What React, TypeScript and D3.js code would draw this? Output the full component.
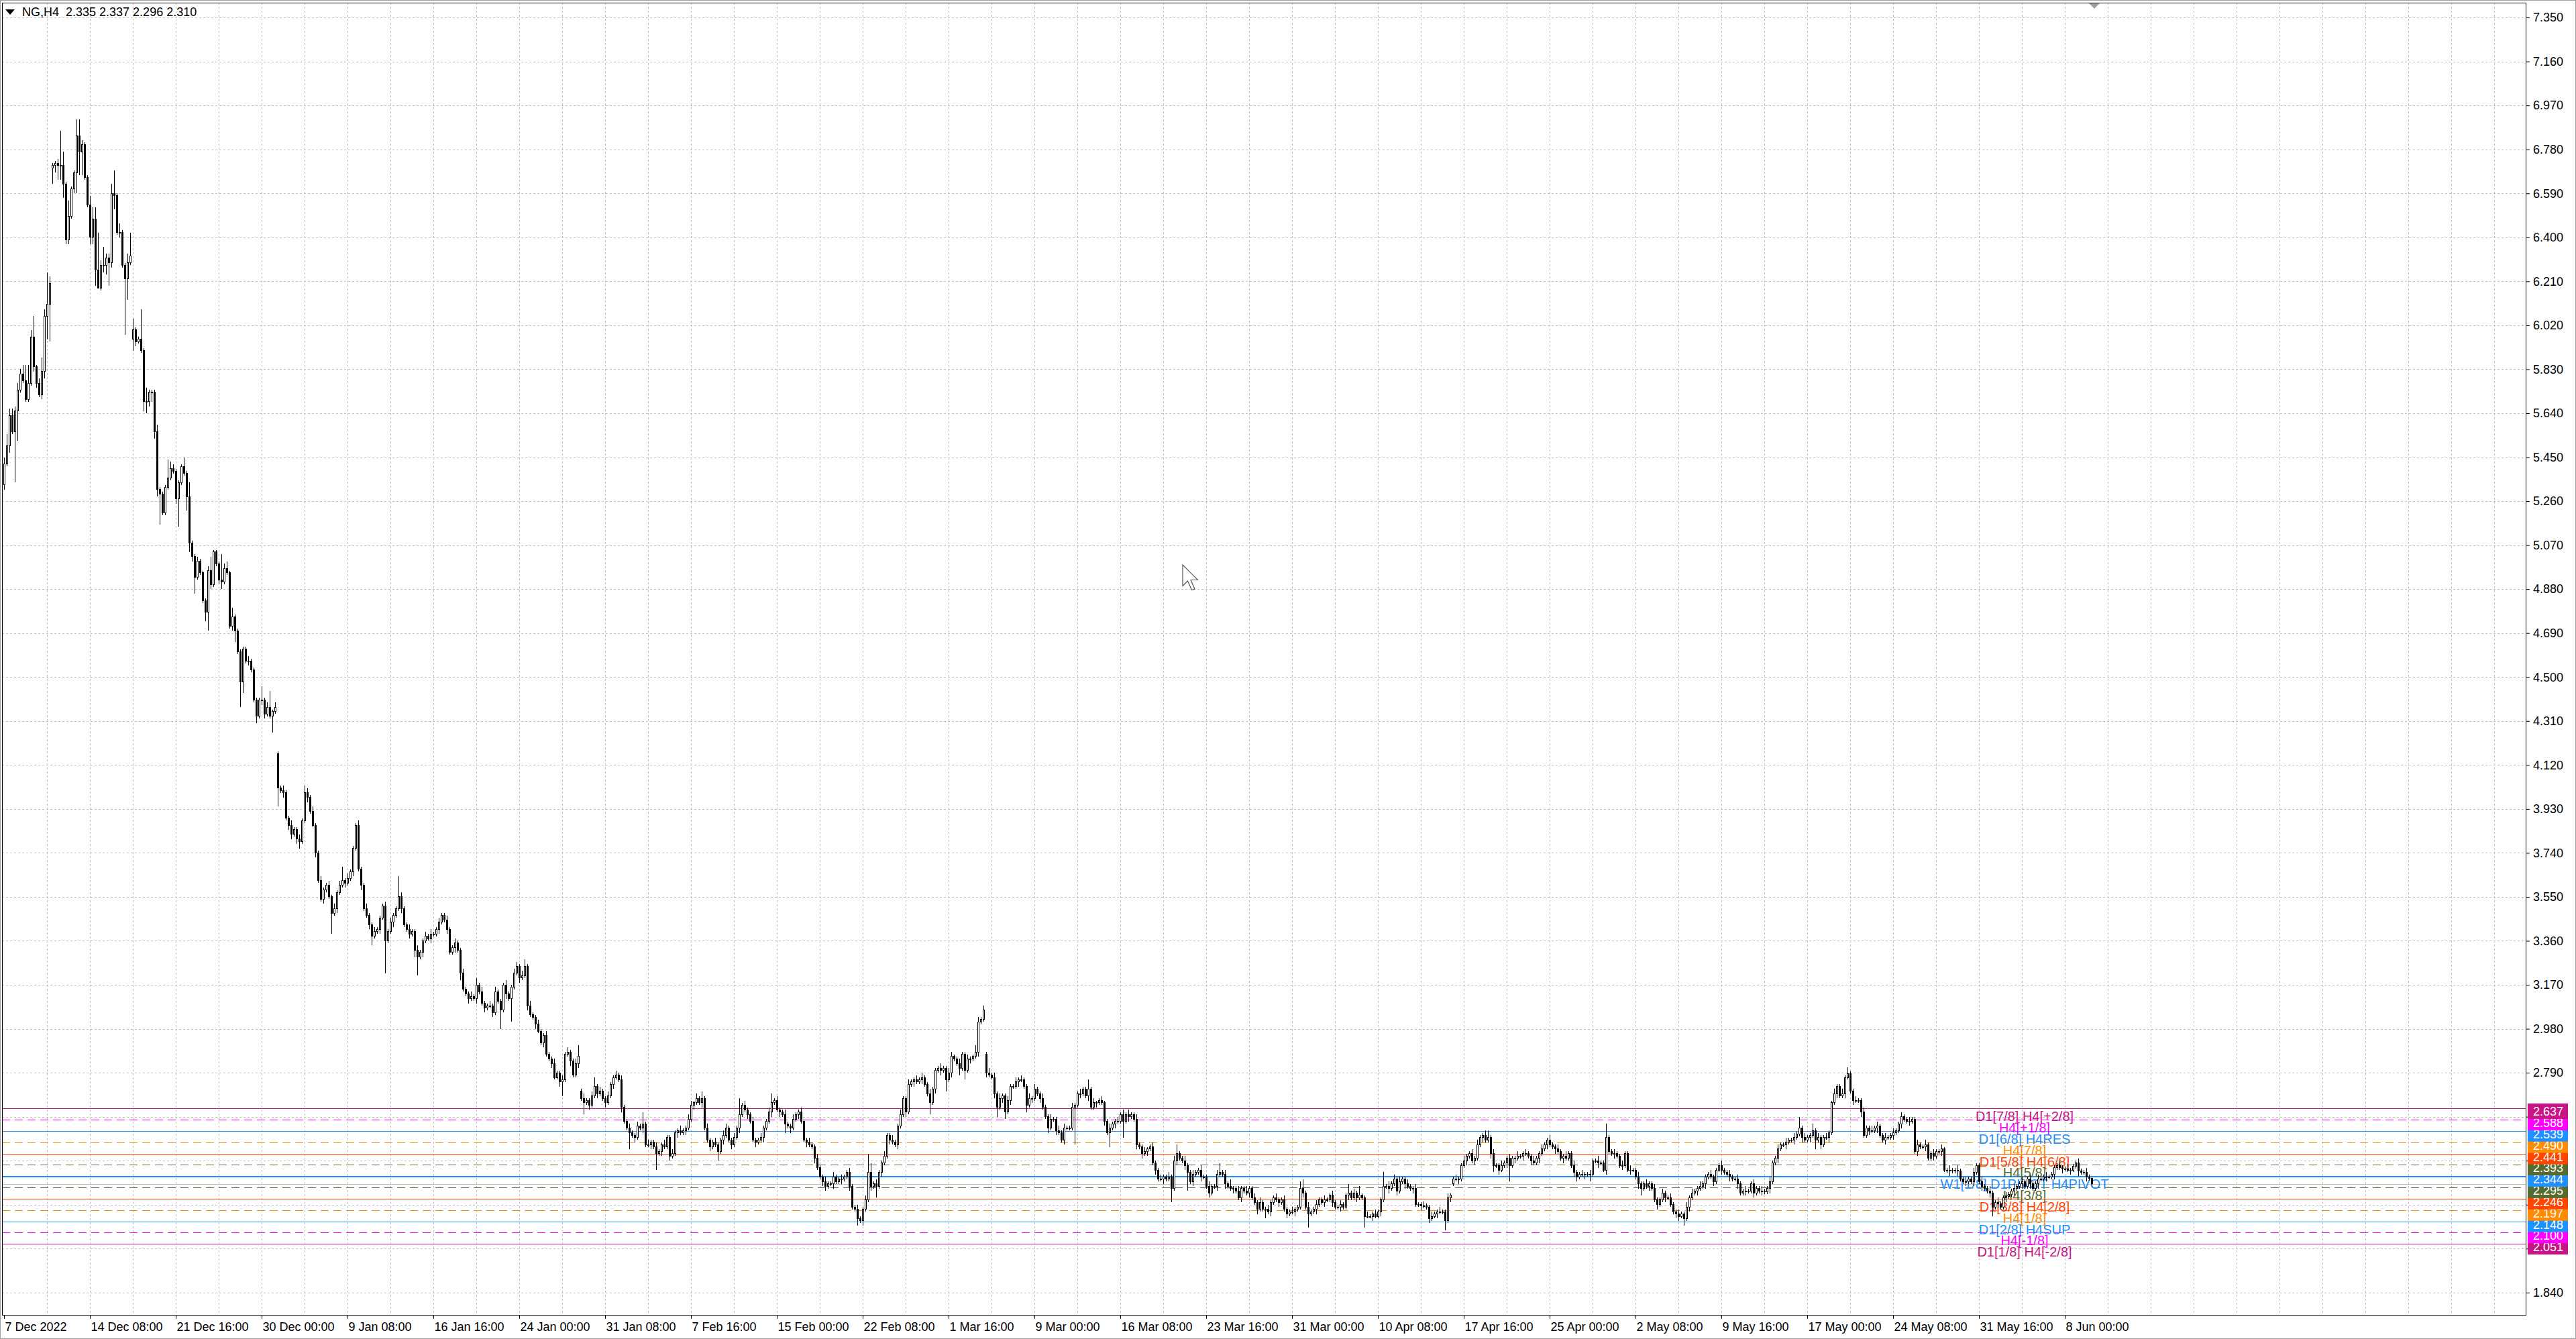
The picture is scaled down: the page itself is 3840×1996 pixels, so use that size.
import { useEffect, useRef } from "react";
import * as d3 from "d3";

const W = 3840;
const H = 1996;

// NG,H4 closes, one per bar
const closes = [
  5.42, 5.50, 5.63, 5.56, 5.65, 5.74, 5.81, 5.78, 5.70, 5.77, // 0
  5.97, 5.84, 5.77, 5.72, 5.82, 6.06, 6.11, 6.20, 6.71, 6.72, // 10
  6.71, 6.71, 6.63, 6.39, 6.49, 6.61, 6.68, 6.84, 6.77, 6.80, // 20
  6.66, 6.54, 6.40, 6.48, 6.26, 6.18, 6.28, 6.28, 6.31, 6.29, // 30
  6.59, 6.58, 6.42, 6.42, 6.28, 6.22, 6.29, 6.32, 6.00, 5.95, // 40
  5.96, 5.91, 5.69, 5.69, 5.73, 5.73, 5.56, 5.31, 5.29, 5.21, // 50
  5.32, 5.36, 5.40, 5.39, 5.27, 5.34, 5.41, 5.38, 5.28, 5.08, // 60
  5.02, 4.93, 5.00, 4.95, 4.83, 4.78, 4.96, 4.90, 5.04, 4.99, // 70
  4.92, 4.91, 4.97, 4.95, 4.72, 4.76, 4.70, 4.61, 4.48, 4.62, // 80
  4.57, 4.57, 4.53, 4.40, 4.33, 4.40, 4.40, 4.34, 4.37, 4.33, // 90
  4.35, 4.37, 4.02, 4.01, 4.00, 3.89, 3.86, 3.82, 3.84, 3.80, // 100
  3.79, 3.88, 4.00, 3.98, 3.92, 3.86, 3.74, 3.62, 3.54, 3.58, // 110
  3.60, 3.55, 3.48, 3.50, 3.57, 3.60, 3.62, 3.61, 3.63, 3.66, // 120
  3.76, 3.86, 3.67, 3.60, 3.50, 3.47, 3.43, 3.38, 3.40, 3.41, // 130
  3.46, 3.51, 3.36, 3.40, 3.44, 3.47, 3.50, 3.55, 3.50, 3.43, // 140
  3.41, 3.39, 3.40, 3.32, 3.29, 3.31, 3.36, 3.38, 3.37, 3.39, // 150
  3.39, 3.41, 3.44, 3.47, 3.45, 3.41, 3.31, 3.33, 3.35, 3.32, // 160
  3.22, 3.15, 3.13, 3.11, 3.12, 3.11, 3.17, 3.14, 3.09, 3.07, // 170
  3.08, 3.08, 3.05, 3.14, 3.10, 3.06, 3.17, 3.13, 3.11, 3.16, // 180
  3.22, 3.25, 3.20, 3.21, 3.25, 3.08, 3.04, 3.03, 3.00, 2.97, // 190
  2.92, 2.95, 2.87, 2.85, 2.83, 2.77, 2.79, 2.75, 2.76, 2.87, // 200
  2.88, 2.84, 2.78, 2.83, 2.86, 2.68, 2.66, 2.67, 2.65, 2.69, // 210
  2.73, 2.70, 2.71, 2.68, 2.66, 2.69, 2.74, 2.77, 2.78, 2.76, // 220
  2.64, 2.58, 2.55, 2.53, 2.52, 2.51, 2.56, 2.55, 2.57, 2.48, // 230
  2.48, 2.49, 2.47, 2.44, 2.45, 2.48, 2.47, 2.51, 2.43, 2.44, // 240
  2.53, 2.54, 2.53, 2.54, 2.55, 2.59, 2.65, 2.66, 2.68, 2.66, // 250
  2.68, 2.55, 2.50, 2.47, 2.49, 2.48, 2.45, 2.50, 2.52, 2.55, // 260
  2.50, 2.48, 2.51, 2.55, 2.61, 2.65, 2.63, 2.61, 2.58, 2.50, // 270
  2.49, 2.50, 2.51, 2.55, 2.58, 2.62, 2.66, 2.67, 2.63, 2.62, // 280
  2.61, 2.57, 2.56, 2.55, 2.59, 2.61, 2.62, 2.58, 2.50, 2.49, // 290
  2.48, 2.47, 2.42, 2.38, 2.34, 2.32, 2.30, 2.31, 2.31, 2.34, // 300
  2.32, 2.33, 2.33, 2.34, 2.36, 2.30, 2.21, 2.20, 2.16, 2.15, // 310
  2.20, 2.24, 2.36, 2.30, 2.31, 2.30, 2.36, 2.40, 2.43, 2.52, // 320
  2.50, 2.49, 2.48, 2.56, 2.61, 2.68, 2.62, 2.74, 2.75, 2.76, // 330
  2.75, 2.76, 2.77, 2.74, 2.70, 2.66, 2.72, 2.80, 2.81, 2.80, // 340
  2.81, 2.76, 2.79, 2.86, 2.85, 2.83, 2.81, 2.87, 2.80, 2.85, // 350
  2.85, 2.86, 2.88, 3.01, 3.02, 3.06, 2.79, 2.78, 2.77, 2.70, // 360
  2.64, 2.68, 2.69, 2.62, 2.67, 2.73, 2.73, 2.75, 2.76, 2.76, // 370
  2.73, 2.65, 2.68, 2.68, 2.72, 2.70, 2.68, 2.64, 2.60, 2.55, // 380
  2.59, 2.59, 2.54, 2.53, 2.50, 2.55, 2.55, 2.55, 2.64, 2.65, // 390
  2.70, 2.70, 2.72, 2.69, 2.72, 2.64, 2.66, 2.66, 2.67, 2.66, // 400
  2.58, 2.53, 2.55, 2.57, 2.58, 2.58, 2.61, 2.58, 2.61, 2.60, // 410
  2.61, 2.59, 2.48, 2.47, 2.44, 2.45, 2.46, 2.47, 2.40, 2.37, // 420
  2.33, 2.33, 2.34, 2.33, 2.34, 2.29, 2.41, 2.44, 2.42, 2.41, // 430
  2.39, 2.36, 2.32, 2.35, 2.36, 2.37, 2.34, 2.34, 2.30, 2.27, // 440
  2.30, 2.30, 2.35, 2.36, 2.35, 2.31, 2.30, 2.29, 2.29, 2.28, // 450
  2.25, 2.29, 2.28, 2.27, 2.29, 2.25, 2.23, 2.20, 2.23, 2.20, // 460
  2.20, 2.19, 2.23, 2.25, 2.24, 2.23, 2.24, 2.20, 2.18, 2.19, // 470
  2.19, 2.20, 2.21, 2.29, 2.27, 2.21, 2.18, 2.19, 2.20, 2.22, // 480
  2.24, 2.23, 2.24, 2.24, 2.26, 2.23, 2.21, 2.21, 2.22, 2.21, // 490
  2.26, 2.27, 2.25, 2.27, 2.25, 2.26, 2.25, 2.17, 2.17, 2.17, // 500
  2.18, 2.17, 2.19, 2.24, 2.30, 2.30, 2.29, 2.31, 2.33, 2.28, // 510
  2.32, 2.33, 2.31, 2.30, 2.29, 2.29, 2.22, 2.22, 2.215, 2.215, // 520
  2.21, 2.16, 2.17, 2.18, 2.19, 2.19, 2.19, 2.15, 2.25, 2.26, // 530
  2.33, 2.33, 2.33, 2.39, 2.41, 2.43, 2.44, 2.41, 2.42, 2.48, // 540
  2.51, 2.52, 2.50, 2.51, 2.44, 2.39, 2.39, 2.37, 2.39, 2.40, // 550
  2.42, 2.39, 2.42, 2.42, 2.43, 2.43, 2.44, 2.44, 2.43, 2.41, // 560
  2.40, 2.42, 2.44, 2.46, 2.48, 2.50, 2.48, 2.47, 2.46, 2.45, // 570
  2.42, 2.43, 2.42, 2.44, 2.39, 2.36, 2.34, 2.35, 2.35, 2.35, // 580
  2.35, 2.35, 2.41, 2.41, 2.40, 2.40, 2.37, 2.51, 2.45, 2.44, // 590
  2.44, 2.43, 2.39, 2.39, 2.44, 2.37, 2.37, 2.37, 2.34, 2.31, // 600
  2.29, 2.31, 2.30, 2.31, 2.29, 2.24, 2.22, 2.24, 2.27, 2.25, // 610
  2.25, 2.22, 2.19, 2.18, 2.17, 2.18, 2.16, 2.21, 2.25, 2.27, // 620
  2.28, 2.29, 2.30, 2.31, 2.34, 2.35, 2.34, 2.32, 2.37, 2.39, // 630
  2.37, 2.36, 2.35, 2.34, 2.33, 2.33, 2.31, 2.27, 2.28, 2.28, // 640
  2.28, 2.31, 2.27, 2.29, 2.28, 2.28, 2.275, 2.29, 2.32, 2.40, // 650
  2.42, 2.46, 2.48, 2.48, 2.49, 2.50, 2.50, 2.51, 2.525, 2.55, // 660
  2.51, 2.50, 2.51, 2.52, 2.54, 2.50, 2.51, 2.48, 2.51, 2.51, // 670
  2.53, 2.66, 2.70, 2.73, 2.69, 2.70, 2.77, 2.785, 2.71, 2.67, // 680
  2.67, 2.67, 2.62, 2.52, 2.55, 2.54, 2.54, 2.55, 2.56, 2.52, // 690
  2.50, 2.51, 2.51, 2.52, 2.53, 2.54, 2.57, 2.60, 2.59, 2.58, // 700
  2.58, 2.59, 2.45, 2.48, 2.47, 2.47, 2.48, 2.42, 2.44, 2.43, // 710
  2.45, 2.45, 2.46, 2.37, 2.365, 2.37, 2.365, 2.37, 2.365, 2.33, // 720
  2.32, 2.32, 2.33, 2.32, 2.36, 2.39, 2.32, 2.30, 2.29, 2.28, // 730
  2.27, 2.21, 2.23, 2.225, 2.21, 2.25, 2.255, 2.265, 2.28, 2.29, // 740
  2.30, 2.31, 2.32, 2.30, 2.33, 2.31, 2.29, 2.31, 2.33, 2.33, // 750
  2.34, 2.34, 2.34, 2.35, 2.38, 2.39, 2.38, 2.375, 2.375, 2.37, // 760
  2.37, 2.385, 2.40, 2.365, 2.36, 2.36, 2.34, 2.335, 2.31, // 770
];

// upper / lower shadow beyond the body, in cents
const wickUp = [
  3, 5, 3, 3, 2, 3, 2, 4, 7, 8, 3, 9, 1, 2, 6, 3, 14, 3, 1, 1,
  2, 15, 6, 1, 7, 1, 1, 7, 7, 2, 1, 1, 4, 5, 5, 16, 2, 8, 2, 2,
  4, 10, 1, 4, 1, 1, 4, 10, 5, 1, 1, 13, 1, 6, 1, 1, 1, 3, 1, 1,
  1, 8, 3, 2, 1, 1, 1, 4, 1, 6, 1, 1, 2, 1, 1, 1, 2, 6, 1, 1,
  1, 11, 2, 3, 1, 4, 1, 1, 1, 1, 1, 2, 1, 1, 1, 1, 6, 1, 2, 7,
  1, 2, // 0-101
  1, 1, 2, 1, 1, 2, 1, 1, 2, 1, 3, 2, 1, 2, 1, 1, 2, 1, 1, 2, // 102
  1, 2, 1, 2, 6, 1, 2, 1, 1, 1, 2, 1, 1, 2, 1, 1, 2, 1, 1, 1, // 122
  2, 1, 2, 1, 1, 9, 2, 1, 1, 2, 1, 1, 2, 1, 1, 2, 1, 2, 1, 1, // 142
  2, 1, 1, 2, 1, 1, 2, 1, 1, 2, 1, 1, 2, 1, 3, 1, 2, 1, 1, 2, // 162
  1, 2, 1, 1, 1, 2, 1, 1, 2, 2, 1, 2, 3, 1, 2, 1, 1, 2, 1, 1, // 182
  2, 1, 1, 2, 1, 1, 2, 1, 2, 1, 1, 2, 5, 1, 2, 1, 1, 2, 4, 1, // 202
  2, 1, 1, 2, 1, 1, 2, 1, 2, 1, 1, 2, 1, 1, 2, 1, 5, 1, 2, 1, // 222
  1, 2, 1, 1, 2, 1, 1, 2, 1, 1, 2, 1, 1, 2, 2, 1, 2, 1, 3, 1, // 242
  2, 1, 1, 2, 1, 1, 2, 2, 1, 1, 2, 1, 7, 1, 2, 1, 1, 2, 1, 1, // 262
  2, 1, 1, 2, 4, 1, 2, 1, 1, 2, 1, 1, 2, 1, 1, 2, 1, 1, 2, 1, // 282
  1, 2, 1, 1, 2, 1, 1, 2, 1, 1, 2, 1, 1, 2, 1, 1, 2, 1, 1, 2, // 302
  8, 4, 1, 2, 1, 1, 2, 1, 1, 2, 1, 1, 2, 1, 1, 2, 1, 1, 2, 1, // 322
  2, 1, 1, 2, 1, 1, // 342
  1, 2, 1, 1, 2, 2, 1, 1, 2, 1, 1, 2, 1, 1, 3, 2, 1, 2, 1, 2, // 348
  1, 2, 1, 2, 1, 1, 2, 1, 1, 2, 1, 2, 1, 1, 2, 1, 2, 1, 1, 2, // 368
  1, 1, 2, 1, 1, 2, 1, 2, 1, 1, 2, 1, 1, 2, 1, 1, 4, 1, 2, 1, // 388
  1, 2, 1, 1, 2, 1, 1, 2, 1, 2, 1, 2, 1, 1, 2, 1, 1, 2, 1, 1, // 408
  2, 1, 1, 2, 1, 1, 2, 1, 2, 4, 1, 1, 2, 1, 1, 2, 1, 1, 2, 1, // 428
  1, 2, 1, 1, 2, 4, 1, 2, 1, 3, 1, 1, 2, 1, 1, 2, 1, 1, 2, 1, // 448
  2, 1, 1, 2, 1, 1, 2, 1, 1, 2, 1, 1, 2, 1, 1, 3, 4, 1, 2, 1, // 468
  1, 2, 1, 1, 2, 1, 1, 2, 1, 1, 2, 1, 1, 4, 1, 2, 1, 4, 1, 1, // 488
  2, 1, 1, 2, 1, 1, 6, 1, 2, 1, 2, 1, 2, 1, 1, 2, 1, 1, 2, 1, // 508
  1, 2, 1, 1, 2, 1, 1, 2, 1, 1, 2, 1, 1, 2, 1, 1, 2, 1, 1, 2, // 528
  1, 2, 1, 1, 2, 3, 1, 2, 1, 1, 2, 1, 1, 2, 1, 1, 2, 1, 1, 2, // 548
  1, 1, 2, 1, 1, 2, 1, 1, 2, 1, 1, 2, 1, 1, 2, 1, 1, 2, 1, 1, // 568
  2, 1, 1, 2, 1, 1, 2, 1, 1, 6, 1, 1, 2, 1, 1, 2, 1, 1, 2, 1, // 588
  1, 2, 1, 1, 2, 1, 1, 2, 1, 1, 2, 1, 1, 2, 1, 1, 2, 1, 1, 2, // 608
  1, 2, 1, 1, 2, 1, 1, 1, 2, 1, 1, 1, 2, 1, 1, 2, 1, 1, 2, 1, // 628
  1, 2, 1, 1, 2, 1, 1, 2, 1, 1, 2, 1, 1, 2, 1, 1, 2, 1, 1, 2, // 648
  1, 5, 1, 2, 1, 1, 3, 1, 2, 1, 1, 2, 1, 1, 2, 1, 1, 2, 1, 3, // 668
  1, 1, 2, 1, 1, 2, 1, 1, 2, 1, 2, 1, 1, 2, 1, 1, 2, 1, 1, 2, // 688
  1, 1, 2, 1, 1, 2, 1, 1, 2, 1, 1, 2, 1, 1, 2, 1, 1, 2, 1, 1, // 708
  2, 1, 1, 2, 1, 1, 2, 1, 1, 2, 1, 1, 2, 1, 1, 2, 1, 1, 2, 1, // 728
  1, 2, 1, 1, 2, 1, 1, 2, 1, 1, 2, 1, 1, 2, 1, 1, 1, 1, 2, 1, // 748
  1, 2, 1, 1, 1, 2, 1, 1, 2, 1, 0.2, // 768
];

const wickDn = [
  2, 1, 3, 1, 22, 13, 1, 1, 1, 1, 1, 2, 2, 1, 2, 3, 10, 16, 7, 3,
  6, 6, 6, 2, 2, 1, 2, 9, 10, 10, 1, 1, 3, 3, 7, 0, 1, 3, 4, 10,
  2, 6, 1, 2, 1, 24, 9, 1, 5, 2, 1, 1, 4, 5, 2, 4, 3, 3, 13, 1,
  1, 1, 1, 1, 2, 12, 1, 1, 6, 4, 2, 7, 1, 1, 1, 4, 8, 2, 1, 1,
  2, 3, 1, 1, 1, 2, 5, 1, 11, 5, 1, 2, 1, 1, 3, 1, 2, 2, 1, 1,
  7, 1, // 0-101
  8, 1, 2, 1, 2, 2, 1, 2, 3, 1, 1, 2, 1, 1, 2, 1, 1, 2, 1, 1, // 102
  9, 1, 2, 1, 1, 2, 1, 1, 2, 1, 1, 2, 1, 1, 2, 4, 1, 1, 2, 1, // 122
  14, 1, 1, 2, 1, 1, 2, 1, 1, 2, 1, 3, 8, 1, 2, 1, 1, 2, 1, 1, // 142
  2, 1, 1, 2, 1, 1, 2, 1, 3, 1, 1, 2, 1, 1, 2, 1, 1, 2, 1, 1, // 162
  2, 1, 1, 8, 1, 2, 1, 10, 1, 1, 2, 1, 1, 2, 1, 1, 2, 1, 1, 2, // 182
  1, 1, 2, 1, 1, 2, 6, 1, 1, 2, 1, 1, 2, 1, 5, 1, 2, 1, 1, 2, // 202
  1, 1, 2, 1, 1, 2, 1, 1, 2, 1, 1, 7, 1, 2, 1, 1, 2, 1, 1, 2, // 222
  1, 7, 1, 2, 1, 1, 2, 1, 1, 2, 1, 1, 2, 1, 1, 2, 1, 1, 2, 1, // 242
  1, 2, 1, 1, 4, 1, 2, 1, 1, 2, 1, 1, 2, 1, 1, 2, 1, 1, 2, 1, // 262
  1, 2, 1, 1, 2, 1, 1, 2, 1, 4, 1, 2, 1, 1, 2, 1, 1, 2, 1, 1, // 282
  2, 1, 1, 2, 2, 1, 1, 2, 1, 1, 2, 1, 1, 2, 1, 1, 3, 1, 2, 1, // 302
  1, 2, 1, 5, 1, 2, 1, 1, 2, 1, 1, 2, 1, 1, 2, 1, 1, 2, 1, 1, // 322
  2, 1, 1, 5, 1, 2, // 342
  1, 2, 1, 5, 1, 2, 1, 1, 3, 1, 4, 1, 2, 1, 1, 2, 1, 1, 2, 1, // 348
  1, 2, 4, 1, 2, 3, 1, 2, 1, 1, 2, 1, 1, 3, 1, 2, 1, 1, 2, 1, // 368
  1, 2, 1, 1, 2, 1, 1, 2, 1, 1, 1, 16, 1, 2, 1, 1, 2, 1, 1, 2, // 388
  1, 1, 2, 1, 6, 1, 2, 1, 1, 7, 1, 2, 1, 1, 2, 1, 2, 1, 2, 1, // 408
  1, 2, 1, 1, 2, 1, 1, 6, 1, 2, 1, 1, 2, 8, 1, 2, 1, 1, 2, 1, // 428
  1, 2, 1, 1, 2, 1, 1, 2, 1, 1, 2, 1, 1, 2, 1, 1, 2, 1, 1, 2, // 448
  1, 1, 4, 1, 2, 1, 1, 2, 1, 1, 2, 1, 1, 2, 1, 1, 2, 1, 6, 1, // 468
  1, 2, 1, 1, 2, 1, 1, 2, 1, 1, 2, 1, 1, 2, 1, 1, 2, 1, 1, 5, // 488
  1, 1, 2, 1, 1, 2, 1, 1, 2, 1, 1, 2, 1, 1, 2, 1, 1, 2, 1, 1, // 508
  2, 1, 1, 2, 1, 1, 2, 1, 1, 4, 1, 2, 1, 1, 2, 1, 1, 2, 1, 1, // 528
  2, 1, 1, 2, 1, 1, 2, 3, 1, 2, 1, 1, 2, 7, 1, 2, 1, 1, 2, 1, // 548
  1, 2, 1, 1, 2, 1, 1, 2, 1, 1, 2, 1, 1, 2, 1, 1, 1, 2, 2, 1, // 568
  1, 2, 1, 3, 1, 1, 2, 1, 1, 2, 1, 1, 2, 1, 1, 2, 1, 1, 2, 1, // 588
  1, 2, 3, 1, 1, 2, 1, 1, 2, 1, 1, 2, 1, 1, 1, 2, 2, 1, 3, 1, // 608
  2, 1, 1, 2, 1, 1, 2, 1, 1, 2, 1, 1, 2, 1, 1, 2, 1, 1, 2, 1, // 628
  1, 2, 1, 1, 2, 1, 1, 2, 1, 1, 2, 1, 1, 2, 1, 1, 2, 1, 1, 2, // 648
  1, 1, 2, 1, 1, 2, 1, 4, 1, 2, 1, 1, 2, 1, 1, 2, 1, 1, 2, 1, // 668
  1, 2, 1, 1, 2, 1, 1, 2, 1, 1, 2, 1, 1, 2, 1, 1, 2, 1, 1, 2, // 688
  1, 1, 2, 1, 1, 2, 1, 1, 2, 1, 1, 2, 1, 1, 2, 1, 1, 2, 1, 1, // 708
  2, 1, 1, 2, 1, 1, 2, 1, 1, 2, 1, 1, 2, 4, 1, 2, 1, 1, 2, 1, // 728
  1, 2, 1, 1, 2, 1, 1, 2, 1, 1, 2, 1, 1, 2, 1, 1, 2, 1, 1, 2, // 748
  1, 1, 2, 1, 1, 2, 1, 1, 2, 1, 1.4, // 768
];

// bars whose open is not the previous close (session gaps)
const gapBars = [0, 18, 48, 102, 215, 366, 540];
const gapOpens = [5.33, 6.70, 5.96, 4.17, 2.71, 2.87, 2.31];

// murrey / pivot levels drawn by the indicator
const levelPrices = [2.637, 2.588, 2.539, 2.490, 2.441, 2.393, 2.344, 2.295, 2.246, 2.197, 2.148, 2.100, 2.051];
const levelColors = ["#C71585", "#FF00FF", "#1E90FF", "#FF8C00", "#FF4500", "#556B2F", "#1E90FF",
  "#556B2F", "#FF4500", "#FF8C00", "#1E90FF", "#FF00FF", "#C71585"];
const levelDashed = [false, true, false, true, false, true, false, true, false, true, false, true, false];
const levelNames = ["D1[7/8] H4[+2/8]", "H4[+1/8]", "D1[6/8] H4RES", "H4[7/8]", "D1[5/8] H4[6/8]", "H4[5/8]",
  "W1[1/8] D1PIVOT H4PIVOT", "H4[3/8]", "D1[3/8] H4[2/8]", "H4[1/8]", "D1[2/8] H4SUP", "H4[-1/8]", "D1[1/8] H4[-2/8]"];

const priceTicks = [1.84, 2.03, 2.22, 2.41, 2.60, 2.79, 2.98, 3.17, 3.36, 3.55, 3.74, 3.93, 4.12, 4.31, 4.50,
  4.69, 4.88, 5.07, 5.26, 5.45, 5.64, 5.83, 6.02, 6.21, 6.40, 6.59, 6.78, 6.97, 7.16, 7.35];

const timeLabels = ["7 Dec 2022", "14 Dec 08:00", "21 Dec 16:00", "30 Dec 00:00", "9 Jan 08:00", "16 Jan 16:00",
  "24 Jan 00:00", "31 Jan 08:00", "7 Feb 16:00", "15 Feb 00:00", "22 Feb 08:00", "1 Mar 16:00", "9 Mar 00:00",
  "16 Mar 08:00", "23 Mar 16:00", "31 Mar 00:00", "10 Apr 08:00", "17 Apr 16:00", "25 Apr 00:00", "2 May 08:00",
  "9 May 16:00", "17 May 00:00", "24 May 08:00", "31 May 16:00", "8 Jun 00:00"];
const timeLabelBars = [0, 32, 64, 96, 128, 160, 192, 224, 256, 288, 320, 352, 384, 416, 448, 480, 512, 544,
  576, 608, 640, 672, 704, 736, 768];

const bidPrice = 2.310;
const header = "NG,H4  2.335 2.337 2.296 2.310";

export default function App() {
  const svgRef = useRef<SVGSVGElement>(null);

  useEffect(() => {
    document.body.style.margin = "0";
    document.body.style.overflow = "hidden";
    const svg = d3.select(svgRef.current);
    svg.selectAll("*").remove();

    const font = "'Liberation Sans', Arial, sans-serif";
    const left = 3, top = 4, right = 3766, bottom = 1961;
    const n = closes.length;

    const x = d3.scaleLinear().domain([0, n - 1]).range([6, 6 + 4 * (n - 1)]);
    const y = d3.scaleLinear().domain([1.741, 7.414]).range([bottom, top]);
    const px = (v: number) => Math.round(v) + 0.5;

    const bars = closes.map((c, i) => {
      const g = gapBars.indexOf(i);
      const o = g >= 0 ? gapOpens[g] : closes[i - 1];
      const hi = Math.max(o, c), lo = Math.min(o, c);
      return { i, o, c, hi, lo, h: hi + (wickUp[i] ?? 1) / 100, l: lo - (wickDn[i] ?? 1) / 100 };
    });

    svg.append("rect").attr("width", W).attr("height", H).attr("fill", "#fff");
    svg.append("rect").attr("x", 0.5).attr("y", 0.5).attr("width", W - 1).attr("height", H - 1)
      .attr("fill", "none").attr("stroke", "#a0a0a0");

    svg.append("defs").append("clipPath").attr("id", "plot")
      .append("rect").attr("x", left).attr("y", top).attr("width", right - left).attr("height", bottom - top);

    // dotted grid
    const grid = svg.append("g").attr("stroke", "#c0c0c0").attr("stroke-dasharray", "3,3")
      .attr("shape-rendering", "crispEdges");
    grid.selectAll(".hg").data(priceTicks).enter().append("line")
      .attr("x1", left).attr("x2", right)
      .attr("y1", d => px(y(d))).attr("y2", d => px(y(d)));
    const vBars = d3.range(16, 2000, 16).filter(b => x(b) < right - 4);
    grid.selectAll(".vg").data(vBars).enter().append("line")
      .attr("x1", d => px(x(d))).attr("x2", d => px(x(d)))
      .attr("y1", top).attr("y2", bottom);

    const plot = svg.append("g").attr("clip-path", "url(#plot)");

    // level lines
    plot.selectAll(".lvl").data(levelPrices).enter().append("line")
      .attr("x1", left).attr("x2", right)
      .attr("y1", d => px(y(d))).attr("y2", d => px(y(d)))
      .attr("stroke", (_, i) => levelColors[i])
      .attr("stroke-width", (_, i) => (i === 6 ? 2 : 1))
      .attr("stroke-dasharray", (_, i) => (levelDashed[i] ? "12,7" : null))
      .attr("shape-rendering", "crispEdges");

    // bid line
    plot.append("line").attr("x1", left).attr("x2", right)
      .attr("y1", px(y(bidPrice))).attr("y2", px(y(bidPrice)))
      .attr("stroke", "#c0c0c0").attr("shape-rendering", "crispEdges");

    // level captions
    plot.selectAll(".lbl").data(levelPrices).enter().append("text")
      .attr("x", 3018).attr("y", d => y(d) + 19)
      .attr("text-anchor", "middle")
      .attr("font-family", font).attr("font-size", 20)
      .attr("fill", (_, i) => levelColors[i])
      .text((_, i) => levelNames[i]);

    // candles
    const cg = plot.append("g").attr("shape-rendering", "crispEdges");
    const candle = cg.selectAll(".c").data(bars).enter().append("g");
    candle.append("line")
      .attr("x1", d => px(x(d.i))).attr("x2", d => px(x(d.i)))
      .attr("y1", d => y(d.h)).attr("y2", d => y(d.l))
      .attr("stroke", "#000");
    candle.append("rect")
      .attr("x", d => px(x(d.i)) - 1).attr("width", 2)
      .attr("y", d => y(d.hi))
      .attr("height", d => Math.max(y(d.lo) - y(d.hi), 1))
      .attr("fill", d => (d.c >= d.o ? "#fff" : "#000"))
      .attr("stroke", "#000");

    // frame
    svg.append("rect").attr("x", left + 0.5).attr("y", top + 0.5)
      .attr("width", right - left - 1).attr("height", bottom - top - 1)
      .attr("fill", "none").attr("stroke", "#000").attr("shape-rendering", "crispEdges");

    // price axis
    const boxTop = y(levelPrices[0]) - 7;
    const boxBottom = y(levelPrices[levelPrices.length - 1]) + 16;
    svg.append("g").attr("transform", `translate(${right},0)`)
      .call(d3.axisRight(y).tickValues(priceTicks).tickFormat(d3.format(".3f")).tickSize(5).tickPadding(5))
      .attr("font-family", font).attr("font-size", 18)
      .call(ax => ax.select(".domain").remove())
      .call(ax => ax.selectAll(".tick line").attr("stroke", "#000"))
      .call(ax => ax.selectAll(".tick text").attr("fill", "#000"))
      .call(ax => ax.selectAll<SVGGElement, number>(".tick")
        .filter(d => y(d) > boxTop - 8 && y(d) < boxBottom + 8)
        .select("text").remove());

    // price tags of the levels, lowest first so higher tags sit on top
    const tags = svg.append("g");
    const order = levelPrices.map((_, i) => i).reverse();
    order.forEach(i => {
      const ly = y(levelPrices[i]);
      tags.append("rect").attr("x", right + 2).attr("y", ly - 7).attr("width", 60).attr("height", 23)
        .attr("fill", levelColors[i]);
      tags.append("text").attr("x", right + 10).attr("y", ly + 11)
        .attr("font-family", font).attr("font-size", 18).attr("fill", "#fff")
        .text(d3.format(".3f")(levelPrices[i]));
    });

    // time axis
    svg.append("g").attr("transform", `translate(0,${bottom})`)
      .call(d3.axisBottom(x).tickValues(timeLabelBars).tickFormat((_, k) => timeLabels[k]).tickSize(5).tickPadding(5))
      .attr("font-family", font).attr("font-size", 18)
      .call(ax => ax.select(".domain").remove())
      .call(ax => ax.selectAll(".tick line").attr("stroke", "#000"))
      .call(ax => ax.selectAll(".tick text").attr("fill", "#000").attr("text-anchor", "start").attr("dx", 1));

    // header
    svg.append("path").attr("d", "M8,14 L22,14 L15,22 Z").attr("fill", "#000");
    svg.append("text").attr("x", 33).attr("y", 24)
      .attr("font-family", font).attr("font-size", 18).attr("fill", "#000")
      .style("white-space", "pre").text(header);

    // chart shift marker
    const sx = x(n - 1) + 4;
    svg.append("path").attr("d", `M${sx - 8},${top + 1} L${sx + 8},${top + 1} L${sx},${top + 9} Z`)
      .attr("fill", "#a0a0a0");

    // mouse pointer
    svg.append("path").attr("transform", "translate(1763,842) scale(1.5)")
      .attr("d", "M0,0 L0,21 L5,16 L9,25 L12,24 L8,15 L15,15 Z")
      .attr("fill", "#fff").attr("stroke", "#555").attr("stroke-width", 0.8);
  }, []);

  return <svg ref={svgRef} width={W} height={H} style={{ display: "block" }} />;
}
